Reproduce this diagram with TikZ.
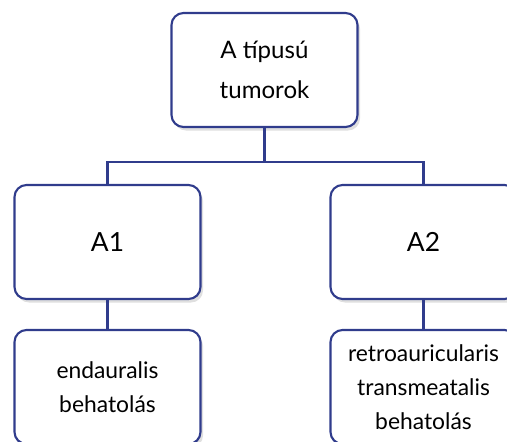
\documentclass[tikz,border=0pt]{standalone}
\usepackage{fontspec}
\setmainfont{Lato}
\usetikzlibrary{shadows}

\definecolor{boxblue}{RGB}{48,60,140}

\begin{document}
\begin{tikzpicture}[
    box/.style={draw=boxblue, line width=1.2pt, fill=white, rounded corners=0.24cm,
        minimum width=3.72cm, minimum height=2.28cm, align=center,
        drop shadow={opacity=0.25, shadow xshift=0.05cm, shadow yshift=-0.07cm}},
    link/.style={draw=boxblue, line width=1.2pt},
    head text/.style={font=\fontsize{13.7}{23}\selectfont},
    mid text/.style={font=\fontsize{15}{18}\selectfont},
    leaf text/.style={font=\fontsize{13}{19.5}\selectfont}
]
\useasboundingbox (0,0) rectangle (10.14,-8.82);

% Nodes
\node[box, head text] (tipus) at (5.29, -1.40) {A típusú\\tumorok};
\node[box, mid text] (a1) at (2.15, -4.84) {A1};
\node[box, mid text] (a2) at (8.47, -4.84) {A2};
\node[box, leaf text] (endaural) at (2.15, -7.74) {endauralis\\behatolás};
\node[box, leaf text] (retro) at (8.47, -7.74) {retroauricularis\\transmeatalis\\behatolás};

% Connectors
\coordinate (split) at (5.29, -3.24);
\draw[link] (tipus) -- (split);
\draw[link] (a1.north) |- (split) -| (a2.north);
\draw[link] (a1) -- (endaural);
\draw[link] (a2) -- (retro);

\end{tikzpicture}
\end{document}
